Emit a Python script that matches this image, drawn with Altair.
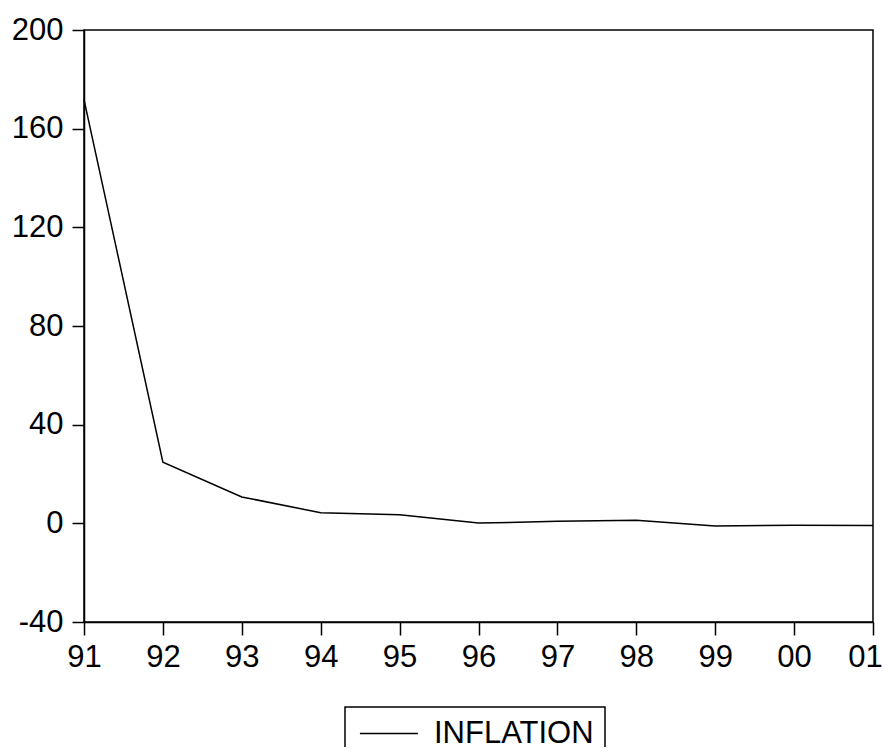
import altair as alt
import pandas as pd

years = ["91", "92", "93", "94", "95", "96", "97", "98", "99", "00", "01"]
inflation = [171.8, 24.8, 10.7, 4.3, 3.5, 0.1, 0.8, 1.2, -1.1, -0.8, -0.9]
series = ["INFLATION"] * len(years)

df = pd.DataFrame({"year": years, "value": inflation, "series": series})

FONT = "Liberation Sans"

chart = (
    alt.Chart(df)
    .mark_line(strokeWidth=1.5)
    .encode(
        x=alt.X(
            "year:O",
            sort=years,
            scale=alt.Scale(type="point", padding=0),
            axis=alt.Axis(
                title=None,
                labelAngle=0,
                tickSize=13,
                tickWidth=1.5,
                domainWidth=1.5,
                labelPadding=7,
                labelFontSize=31,
                labelFont=FONT,
                labelColor="black",
                labelOffset=alt.ConditionalAxisNumber(
                    condition={"test": "datum.label == '01'", "value": -8},
                    value=0,
                ),
                domainColor="black",
                tickColor="black",
                grid=False,
            ),
        ),
        y=alt.Y(
            "value:Q",
            scale=alt.Scale(domain=[-40, 200], nice=False, zero=False),
            axis=alt.Axis(
                title=None,
                values=[-40, 0, 40, 80, 120, 160, 200],
                labelExpr="'' + datum.value",
                tickSize=12,
                tickWidth=1.5,
                domainWidth=1.5,
                labelPadding=9,
                labelFontSize=31,
                labelFont=FONT,
                labelColor="black",
                domainColor="black",
                tickColor="black",
                grid=False,
            ),
        ),
        color=alt.Color(
            "series:N",
            scale=alt.Scale(range=["black"]),
            legend=alt.Legend(
                title=None,
                orient="none",
                legendX=261,
                legendY=677,
                symbolType="M-0.8,0H3.2",
                symbolSize=841,
                symbolStrokeWidth=1.5,
                labelFontSize=31,
                labelFont=FONT,
                labelColor="black",
                labelOffset=47,
                labelExpr="datum.label + '\u00a0'",
                padding=11,
                strokeColor="black",
                cornerRadius=0,
            ),
        ),
    )
    .properties(
        width=789,
        height=592,
        padding={"left": 76, "top": 22, "right": 9, "bottom": 125},
        autosize=alt.AutoSizeParams(type="none"),
        background="white",
    )
    .configure_view(stroke="black", strokeWidth=1.5)
    .configure_legend(strokeWidth=1.5)
)

chart.save("out.html", embed_options={"renderer": "svg", "actions": False})
